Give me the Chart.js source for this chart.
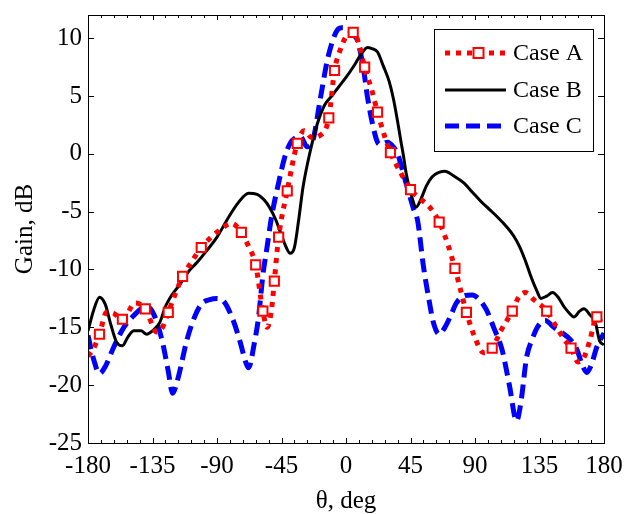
<!DOCTYPE html>
<html>
<head>
<meta charset="utf-8">
<script src="https://cdn.jsdelivr.net/npm/chart.js@4.4.0/dist/chart.umd.min.js"></script>
<style>
  html, body { margin: 0; padding: 0; background: #fff; }
</style>
</head>
<body>
<canvas id="gainChart" width="624" height="514"></canvas>
<script>
// Tick labels
const xTicks = [-180, -135, -90, -45, 0, 45, 90, 135, 180];
const yTicks = [-25, -20, -15, -10, -5, 0, 5, 10];

// Case A (red dotted with square markers)
const caseATheta = [-180,-176,-172,-167,-162,-156,-147,-140,-132,-128,-124,-114,-107,-101,-94,-87,-80,-73,-68,-63,-58,-55,-52,-50,-47,-41,-34,-29,-24,-18,-12,-8,-4,1,5,9,13,18,22,27,31,38,45,52,59,65,71,76,80,84,90,96,102,108,116,120,125,131,140,146,152,157,162,166,170,175,180];
const caseAGain = [-17.5,-16.8,-15.6,-13.7,-13.8,-14.3,-12.9,-13.4,-15.4,-15.0,-13.7,-10.6,-9.2,-8.1,-7.2,-6.5,-6.0,-6.8,-8.0,-9.6,-13.6,-15.0,-13.5,-11.0,-7.2,-3.2,0.9,2.0,1.4,1.6,3.1,7.2,9.0,10.3,10.5,9.5,7.5,5.5,3.6,1.5,0.1,-1.6,-3.1,-3.9,-4.7,-5.9,-7.8,-9.9,-11.8,-13.7,-15.9,-17.2,-16.8,-15.3,-13.6,-12.5,-12.0,-12.6,-13.6,-14.8,-16.0,-16.8,-18.0,-17.6,-16.2,-14.1,-15.0];
// angles where Case A has a square marker
const caseAMarkers = [-172,-156,-140,-124,-114,-101,-73,-63,-58,-50,-47,-41,-34,-12,-8,5,13,22,31,45,65,76,84,102,116,140,157,175];

// Case B (black solid)
const caseBTheta = [-180,-176,-172,-168,-164,-160,-156,-152,-148,-143,-139,-135,-130,-126,-122,-116,-110,-104,-98,-90,-82,-75,-68,-62,-57,-53,-49,-46,-42,-39,-36,-33,-30,-25,-20,-15,-10,-5,0,5,10,15,18,22,26,30,33,36,38,40,42,45,49,52,56,60,65,69,75,82,88,94,100,106,112,117,121,125,129,133,136,140,144,148,152,156,159,163,166,170,174,177,180];
const caseBGain = [-15.3,-13.5,-12.4,-13.0,-14.8,-16.3,-16.6,-15.8,-15.3,-15.3,-15.6,-15.3,-14.6,-13.2,-12.3,-11.3,-10.2,-9.4,-8.5,-7.2,-5.5,-4.2,-3.4,-3.5,-4.0,-4.7,-5.7,-6.7,-8.0,-8.6,-8.1,-5.7,-2.9,0.2,2.6,4.2,5.0,5.8,6.6,7.5,8.5,9.2,9.1,8.8,7.6,6.3,4.8,2.8,1.3,-0.1,-1.7,-3.3,-4.6,-4.0,-2.8,-2.0,-1.6,-1.5,-1.9,-2.5,-3.3,-4.1,-4.8,-5.5,-6.3,-7.1,-8.0,-9.2,-10.6,-11.8,-12.5,-12.3,-12.0,-12.4,-13.2,-13.8,-14.1,-13.6,-13.4,-13.9,-14.6,-16.2,-16.5];

// Case C (blue dashed)
const caseCTheta = [-180,-176,-172,-168,-162,-155,-149,-143,-139,-134,-128,-124,-121,-117,-111,-106,-101,-95,-90,-85,-79,-74,-70,-68,-64,-61,-58,-55,-52,-47,-43,-39,-35,-32,-27,-23,-18,-13,-9,-6,-3,1,5,8,12,15,19,22,24,29,33,36,40,43,47,50,54,58,61,65,69,73,77,82,88,93,98,103,109,114,119,122,126,130,134,139,145,151,156,161,165,168,171,175,180];
const caseCGain = [-15.7,-17.8,-19.0,-18.4,-16.7,-15.0,-14.1,-13.4,-13.2,-13.9,-16.3,-18.8,-20.7,-19.3,-16.1,-14.2,-13.0,-12.6,-12.5,-12.8,-14.3,-16.2,-18.0,-18.5,-16.4,-14.1,-10.5,-8.0,-5.5,-2.5,-0.4,0.9,1.4,1.5,0.6,1.2,4.7,8.1,9.9,10.7,10.9,10.8,10.3,9.8,7.5,4.9,2.3,1.0,0.8,1.0,0.6,0.0,-1.7,-3.0,-4.7,-5.8,-9.7,-12.7,-14.6,-15.6,-15.0,-14.0,-12.9,-12.3,-12.2,-12.6,-13.5,-15.0,-17.0,-20.0,-23.1,-21.5,-17.6,-16.0,-14.9,-14.4,-15.0,-15.5,-16.0,-16.9,-18.3,-18.9,-18.3,-16.7,-15.5];

const serif = '"Liberation Serif", "Times New Roman", serif';
Chart.defaults.font.family = serif;
Chart.defaults.color = '#000';

function toPoints(xs, ys) {
  return xs.map((x, i) => ({ x: x, y: ys[i] }));
}

// Frame, inward ticks and the legend box
const framePlugin = {
  id: 'frame',
  afterDraw(chart) {
    const ctx = chart.ctx;
    const a = chart.chartArea;
    const xs = chart.scales.x;
    const ys = chart.scales.y;
    ctx.save();
    ctx.strokeStyle = '#000';
    ctx.lineWidth = 1;
    ctx.strokeRect(a.left + 0.5, a.top + 0.5, a.right - a.left, a.bottom - a.top);

    ctx.beginPath();
    for (let v = -180; v <= 180; v += 9) {
      const px = Math.round(xs.getPixelForValue(v)) + 0.5;
      const len = (v % 45 === 0) ? 5 : 3;
      ctx.moveTo(px, a.bottom);
      ctx.lineTo(px, a.bottom - len);
      ctx.moveTo(px, a.top);
      ctx.lineTo(px, a.top + len);
    }
    yTicks.forEach(v => {
      const py = Math.round(ys.getPixelForValue(v)) + 0.5;
      ctx.moveTo(a.left, py);
      ctx.lineTo(a.left + 6, py);
      ctx.moveTo(a.right, py);
      ctx.lineTo(a.right - 6, py);
    });
    ctx.stroke();

    // legend
    const bx = a.right - 170, by = a.top + 14, bw = 159, bh = 122;
    ctx.fillStyle = '#fff';
    ctx.fillRect(bx, by, bw, bh);
    ctx.strokeRect(bx + 0.5, by + 0.5, bw, bh);
    const rows = [by + 24, by + 61, by + 97];
    const x0 = bx + 11, x1 = bx + 72;
    chart.data.datasets.forEach((ds, i) => {
      const y = rows[i];
      ctx.beginPath();
      ctx.strokeStyle = ds.borderColor;
      ctx.lineWidth = ds.borderWidth;
      ctx.setLineDash(ds.borderDash || []);
      ctx.moveTo(x0, y);
      ctx.lineTo(x1, y);
      ctx.stroke();
      ctx.setLineDash([]);
      if (i === 0) {
        const c = (x0 + x1) / 2 + 3;
        ctx.fillStyle = '#fff';
        ctx.fillRect(c - 5, y - 5, 10, 10);
        ctx.strokeStyle = ds.borderColor;
        ctx.lineWidth = 2;
        ctx.strokeRect(c - 5, y - 5, 10, 10);
      }
      ctx.fillStyle = '#000';
      ctx.font = '24px ' + serif;
      ctx.textBaseline = 'middle';
      ctx.textAlign = 'left';
      ctx.fillText(ds.label, x1 + 7, y + 1);
    });
    ctx.restore();
  }
};

const ctx = document.getElementById('gainChart').getContext('2d');
const gainChart = new Chart(ctx, {
  type: 'line',
  data: {
    datasets: [
      {
        label: 'Case A',
        data: toPoints(caseATheta, caseAGain),
        borderColor: '#ff0000',
        borderWidth: 5,
        borderDash: [5, 6],
        borderCapStyle: 'butt',
        cubicInterpolationMode: 'monotone',
        pointStyle: 'rect',
        pointRadius: c => caseAMarkers.includes(caseATheta[c.dataIndex]) ? 6.5 : 0,
        pointBackgroundColor: '#fff',
        pointBorderColor: '#ff0000',
        pointBorderWidth: 2
      },
      {
        label: 'Case B',
        data: toPoints(caseBTheta, caseBGain),
        borderColor: '#000000',
        borderWidth: 3,
        cubicInterpolationMode: 'monotone',
        pointRadius: 0
      },
      {
        label: 'Case C',
        data: toPoints(caseCTheta, caseCGain),
        borderColor: '#0000ff',
        borderWidth: 5,
        borderDash: [14, 7],
        borderCapStyle: 'butt',
        cubicInterpolationMode: 'monotone',
        pointRadius: 0
      }
    ]
  },
  options: {
    responsive: false,
    animation: false,
    events: [],
    layout: { padding: { top: 15, right: 20, left: 0, bottom: 0 } },
    plugins: { legend: { display: false }, tooltip: { enabled: false } },
    scales: {
      x: {
        type: 'linear',
        min: -180,
        max: 180,
        afterBuildTicks: s => { s.ticks = xTicks.map(v => ({ value: v })); },
        afterFit: s => { s.height = 71; s.paddingLeft = 0; s.paddingRight = 0; },
        grid: { display: false, drawTicks: false },
        border: { display: false },
        ticks: { font: { size: 25 }, padding: 8, maxRotation: 0, callback: v => String(v) },
        title: { display: true, text: 'θ, deg', font: { size: 25 }, padding: { top: 0, bottom: -2 } }
      },
      y: {
        min: -25,
        max: 12,
        afterBuildTicks: s => { s.ticks = yTicks.map(v => ({ value: v })); },
        afterFit: s => { s.width = 88; s.paddingTop = 0; s.paddingBottom = 0; },
        grid: { display: false, drawTicks: false },
        border: { display: false },
        ticks: { font: { size: 25 }, padding: 6, callback: v => String(v) },
        title: { display: true, text: 'Gain, dB', font: { size: 25 }, padding: { top: 10, bottom: 0 } }
      }
    }
  },
  plugins: [framePlugin]
});
</script>
</body>
</html>
